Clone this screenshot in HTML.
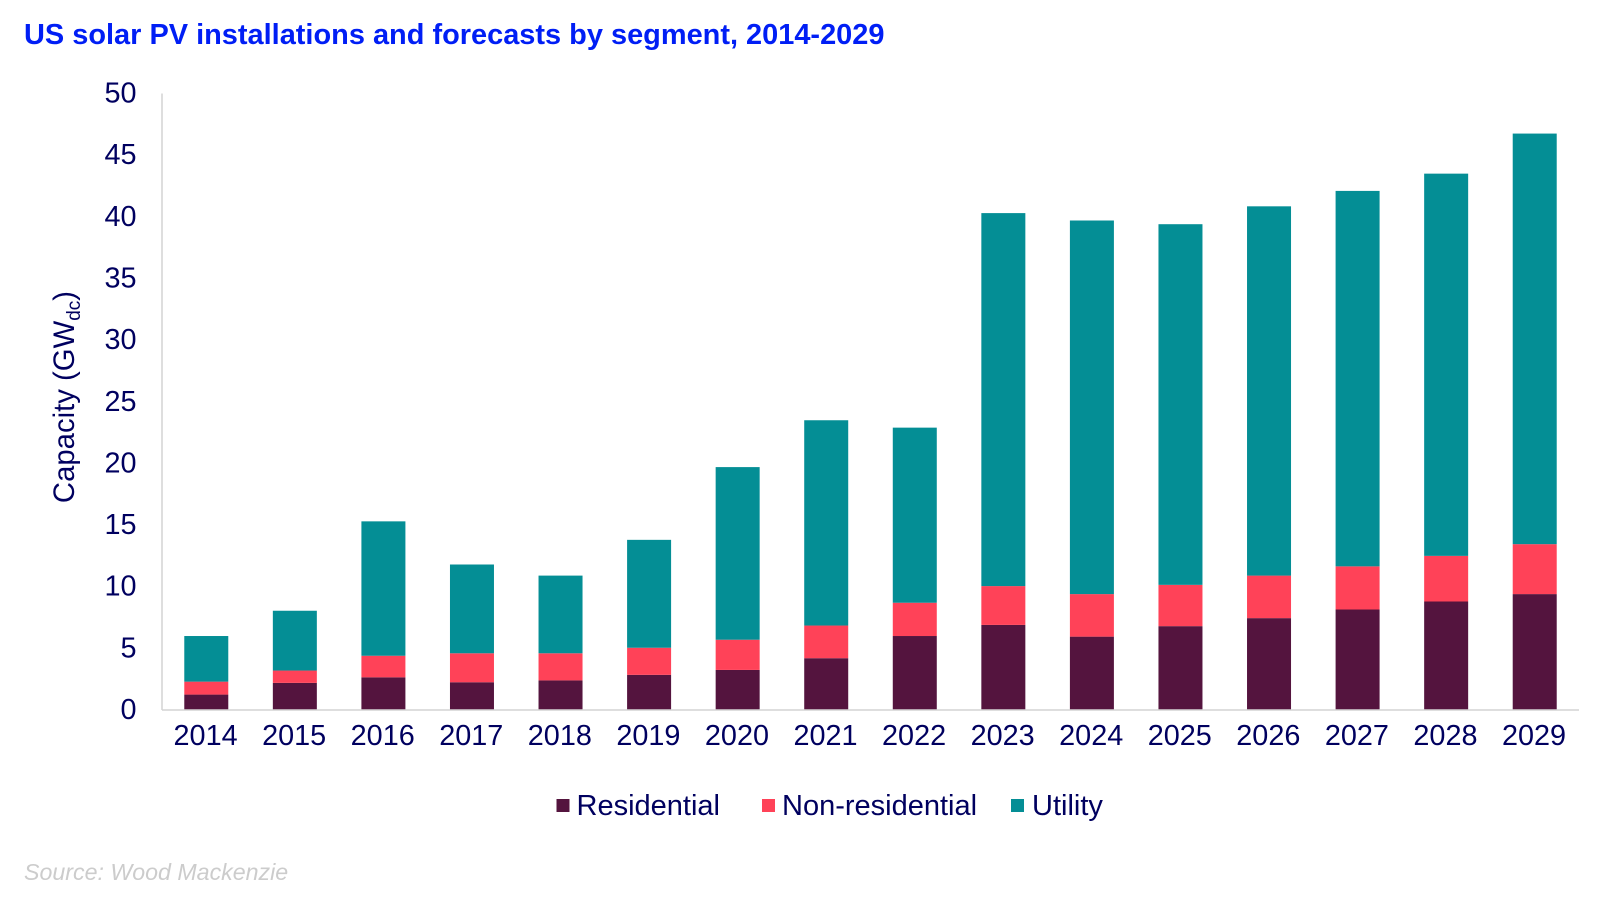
<!DOCTYPE html>
<html lang="en">
<head>
<meta charset="utf-8">
<title>US solar PV installations and forecasts by segment, 2014-2029</title>
<style>
html,body{margin:0;padding:0;background:#fff;}
body{width:1600px;height:906px;overflow:hidden;}
svg{display:block;font-family:"Liberation Sans",Arial,sans-serif;}
</style>
</head>
<body>
<svg id="chart" width="1600" height="906" viewBox="0 0 1600 906" xmlns="http://www.w3.org/2000/svg">
  <rect x="0" y="0" width="1600" height="906" fill="#ffffff"/>
  <text x="24" y="44" font-size="28.95" font-weight="700" fill="#001ef5">US solar PV installations and forecasts by segment, 2014-2029</text>
  <text transform="translate(74,397) rotate(-90)" text-anchor="middle" font-size="29.3" fill="#00005f">Capacity (GW<tspan font-size="19" dy="6">dc</tspan><tspan dy="-6">)</tspan></text>
  <g id="plot"></g>
  <g id="legend"></g>
  <text x="24" y="880" font-size="23.2" font-style="italic" fill="#cccccc">Source: Wood Mackenzie</text>
</svg>
<script>
const categories = ['2014','2015','2016','2017','2018','2019','2020','2021','2022','2023','2024','2025','2026','2027','2028','2029'];
const residential = [1.25,2.2,2.65,2.25,2.4,2.85,3.25,4.2,6.0,6.9,5.95,6.8,7.45,8.15,8.8,9.4];
const nonResidential = [1.05,1.0,1.75,2.35,2.2,2.2,2.45,2.65,2.7,3.15,3.45,3.35,3.45,3.5,3.7,4.05];
const utility = [3.7,4.85,10.9,7.2,6.3,8.75,14.0,16.65,14.2,30.25,30.3,29.25,29.95,30.45,31.0,33.3];
const yTicks = [0,5,10,15,20,25,30,35,40,45,50];

const seriesNames = ['Residential','Non-residential','Utility'];
const seriesColors = ['#54143e','#ff4258','#048e95'];
const seriesValues = [residential, nonResidential, utility];

const NS = 'http://www.w3.org/2000/svg';
const plot = document.getElementById('plot');
const legend = document.getElementById('legend');
const left = 162, right = 1579, top0 = 93.5, bottom = 710, yMax = 50;
const band = (right - left) / categories.length;
const barWidth = 44;

function xCenter(i){ return left + band * (i + 0.5); }
function yPos(v){ return bottom - (v / yMax) * (bottom - top0); }
function make(tag, attrs, parent){
  const el = document.createElementNS(NS, tag);
  for (const k in attrs) el.setAttribute(k, attrs[k]);
  parent.appendChild(el);
  return el;
}

yTicks.forEach(function(t){
  const label = make('text', {x:136.5, y:yPos(t)+9, 'text-anchor':'end', 'font-size':28.8, fill:'#00005f'}, plot);
  
  
  label.textContent = String(t);
});

categories.forEach(function(cat, i){
  let acc = 0;
  seriesValues.forEach(function(vals, s){
    const y0 = yPos(acc), y1 = yPos(acc + vals[i]);
    const bar = make('rect', {x:xCenter(i)-barWidth/2, y:y1, width:barWidth, height:y0-y1, fill:seriesColors[s]}, plot);
    
    
    acc += vals[i];
  });
  const label = make('text', {x:xCenter(i)-0.7, y:745, 'text-anchor':'middle', 'font-size':28.8, fill:'#00005f'}, plot);
  
  
  label.textContent = cat;
});

const yAxis = make('line', {x1:left, y1:top0, x2:left, y2:bottom, stroke:'#d4d4d4', 'stroke-width':1.5}, plot);


const xAxis = make('line', {x1:left, y1:bottom, x2:right, y2:bottom, stroke:'#d4d4d4', 'stroke-width':1.5}, plot);



const legendSwatchX = [556.5, 762, 1011];
const legendTextX = [576.5, 782, 1032];
seriesNames.forEach(function(name, s){
  const swatch = make('rect', {x:legendSwatchX[s], y:799, width:13, height:13, fill:seriesColors[s]}, legend);
  
  
  const text = make('text', {x:legendTextX[s], y:815, 'font-size':29, fill:'#00005f'}, legend);
  
  
  text.textContent = name;
});
</script>
</body>
</html>
